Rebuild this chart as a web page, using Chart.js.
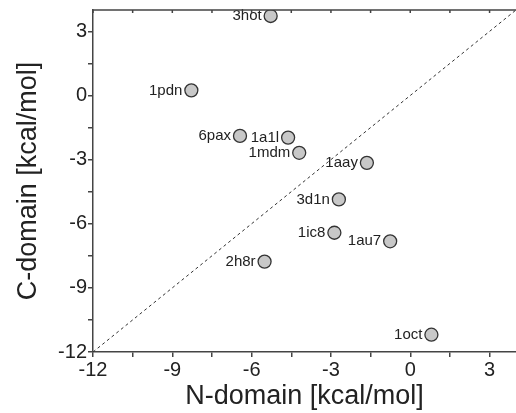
<!DOCTYPE html>
<html>
<head>
<meta charset="utf-8">
<script src="https://cdn.jsdelivr.net/npm/chart.js@4/dist/chart.umd.min.js"></script>
<style>
  html, body { margin: 0; padding: 0; background: #fff; }
  #wrap { width: 516px; height: 413px; }
</style>
</head>
<body>
<div id="wrap"><canvas id="chart" width="516" height="413"></canvas></div>
<script>
// protein names and free energies per domain (kcal/mol)
const names = ["3hot", "1pdn", "6pax", "1a1l", "1mdm", "1aay", "3d1n", "1ic8", "1au7", "2h8r", "1oct"];
const nDomain = [-5.28, -8.28, -6.44, -4.62, -4.20, -1.64, -2.70, -2.87, -0.76, -5.51, 0.80];
const cDomain = [3.72, 0.24, -1.89, -1.97, -2.68, -3.15, -4.86, -6.42, -6.82, -7.77, -11.19];

// y = x reference line
const diagonal = [-12, 4];

const axisMin = -12;
const axisMax = 4;
const majorStep = 3;
const minorStep = 1.5;

const axisColor = "#444";
const textColor = "#222";
const fontFamily = "'Liberation Sans', Arial, sans-serif";

const points = nDomain.map((x, i) => ({ x, y: cDomain[i] }));
const diagPoints = diagonal.map((v) => ({ x: v, y: v }));

function tickLabel(value) {
  return Math.abs(value % majorStep) < 1e-9 ? String(value) : "";
}

const pointLabels = {
  id: "pointLabels",
  afterDatasetsDraw(chart) {
    const { ctx } = chart;
    const meta = chart.getDatasetMeta(1);
    ctx.save();
    ctx.font = `15px ${fontFamily}`;
    ctx.fillStyle = textColor;
    ctx.textAlign = "right";
    ctx.textBaseline = "middle";
    meta.data.forEach((el, i) => {
      ctx.fillText(names[i], el.x - 9, el.y);
    });
    ctx.restore();
  },
};

const topFrame = {
  id: "topFrame",
  afterDraw(chart) {
    const { ctx, chartArea } = chart;
    const xScale = chart.scales.x;
    ctx.save();
    ctx.strokeStyle = axisColor;
    ctx.lineWidth = 1.5;
    ctx.beginPath();
    ctx.moveTo(chartArea.left, chartArea.top);
    ctx.lineTo(chartArea.right, chartArea.top);
    xScale.ticks.forEach((t) => {
      const px = xScale.getPixelForValue(t.value);
      ctx.moveTo(px, chartArea.top);
      ctx.lineTo(px, chartArea.top + 3);
    });
    ctx.stroke();
    ctx.restore();
  },
};

function axisOptions(title, isX) {
  return {
    type: "linear",
    min: axisMin,
    max: axisMax,
    border: { display: true, color: axisColor, width: 1.5 },
    grid: {
      drawOnChartArea: false,
      drawTicks: true,
      tickLength: 5,
      color: axisColor,
      lineWidth: 1.5,
    },
    ticks: {
      stepSize: minorStep,
      includeBounds: false,
      autoSkip: false,
      maxRotation: 0,
      padding: isX ? 1 : 1,
      color: textColor,
      font: { family: fontFamily, size: 20 },
      callback: tickLabel,
    },
    title: {
      display: true,
      text: title,
      color: textColor,
      font: { family: fontFamily, size: 27, lineHeight: 1.2 },
      padding: isX ? { top: 0, bottom: 0 } : { top: 12, bottom: 0 },
    },
    afterFit(scale) {
      if (isX) {
        scale.height = 61;
      } else {
        scale.width = 93;
      }
      scale.paddingLeft = 0;
      scale.paddingRight = 0;
      scale.paddingTop = 0;
      scale.paddingBottom = 0;
    },
  };
}

new Chart(document.getElementById("chart"), {
  data: {
    datasets: [
      {
        type: "line",
        data: diagPoints,
        borderColor: "#333",
        borderWidth: 1,
        borderDash: [3, 3],
        pointRadius: 0,
        fill: false,
        order: 2,
      },
      {
        type: "scatter",
        data: points,
        pointRadius: 6.5,
        pointHoverRadius: 6.5,
        backgroundColor: "#c8c8c8",
        borderColor: "#333",
        borderWidth: 1.3,
        order: 1,
      },
    ],
  },
  options: {
    responsive: false,
    animation: false,
    devicePixelRatio: 1,
    layout: { autoPadding: false, padding: { top: 10, right: 0, left: 0, bottom: 0 } },
    plugins: {
      legend: { display: false },
      tooltip: { enabled: false },
    },
    scales: {
      x: axisOptions("N-domain [kcal/mol]", true),
      y: axisOptions("C-domain [kcal/mol]", false),
    },
  },
  plugins: [pointLabels, topFrame],
});
</script>
</body>
</html>
